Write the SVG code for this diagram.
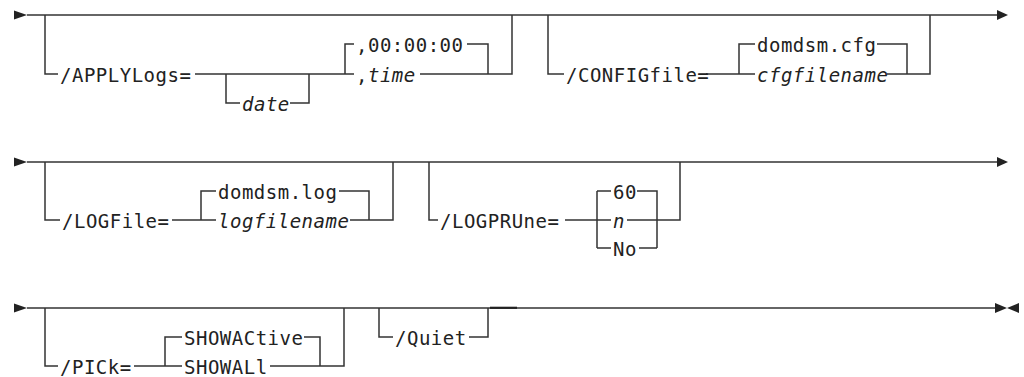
<svg xmlns="http://www.w3.org/2000/svg" width="1024" height="377" viewBox="0 0 1024 377">
<style>
.l{fill:none;stroke:#333;stroke-width:1.5}
text{font-family:"DejaVu Sans Mono","Liberation Mono",monospace;font-size:19px;letter-spacing:0.5px;fill:#222}
.i{font-style:italic}
.a{fill:#222}
</style>
<rect width="1024" height="377" fill="#fff"/>
<g id="connectors">
<!-- row 1 -->
<path class="l" d="M27,15 H998"/>
<path class="l" d="M45,15 V74 H58 M195,74 H309 M226,74 V103 H240 M290,103 H309 V74 M309,74 H354 M345,74 V44 H354 M467,44 H488 V74 M420,74 H512 V15"/>
<path class="l" d="M548,15 V74 H564 M706,74 H755 M739,74 V44 H755 M877,44 H907 V74 M887,74 H930 V15"/>
<!-- row 2 -->
<path class="l" d="M27,162 H998"/>
<path class="l" d="M45,162 V220 H60 M172,220 H216 M201,220 V191 H216 M339,191 H369 V220 M350,220 H393 V162"/>
<path class="l" d="M429,162 V220 H438 M565,220 H611 M597,191 V248 M597,191 H611 M597,248 H611 M637,191 H657 V248 M627,220 H680 V162 M639,248 H657"/>
<!-- row 3 -->
<path class="l" d="M27,308 H996"/>
<path class="l" d="M45,308 V366 H58 M134,366 H182 M165,366 V337 H182 M304,337 H320 V366 M270,366 H344 V308"/>
<path class="l" d="M379,308 V337 H393 M469,337 H488 V308"/>
<path d="M490,307.8 H517" stroke="#222" stroke-width="2.2"/>
<!-- arrowheads -->
<path class="a" d="M14,10.5 L27,15 L14,19.5 Z"/>
<path class="a" d="M997,10 L1008,15 L997,20 Z"/>
<path class="a" d="M14,157.5 L27,162 L14,166.5 Z"/>
<path class="a" d="M997,157 L1008,162 L997,167 Z"/>
<path class="a" d="M14,303.5 L27,308 L14,312.5 Z"/>
<path class="a" d="M995,303 L1007,308 L995,313 Z"/>
<path class="a" d="M1019,303 L1007,308 L1019,313 Z"/>
</g>
<g id="applylogs">
<text x="60" y="81.5">/APPLYLogs=</text>
<text x="242" y="110.5" class="i">date</text>
<text x="356" y="51.5">,00:00:00</text>
<text x="356" y="81.5">,<tspan class="i">time</tspan></text>
</g>
<g id="configfile">
<text x="566" y="81.5">/CONFIGfile=</text>
<text x="757" y="51.5">domdsm.cfg</text>
<text x="757" y="81.5" class="i">cfgfilename</text>
</g>
<g id="logfile">
<text x="62" y="227.5">/LOGFile=</text>
<text x="218" y="198.5">domdsm.log</text>
<text x="218" y="227.5" class="i">logfilename</text>
</g>
<g id="logprune">
<text x="440" y="227.5">/LOGPRUne=</text>
<text x="613" y="198.5">60</text>
<text x="613" y="227.5" class="i">n</text>
<text x="613" y="255.5">No</text>
</g>
<g id="pick">
<text x="60" y="373.5">/PICk=</text>
<text x="184" y="344.5">SHOWACtive</text>
<text x="184" y="373.5">SHOWALl</text>
</g>
<g id="quiet">
<text x="395" y="344.5">/Quiet</text>
</g>
</svg>
